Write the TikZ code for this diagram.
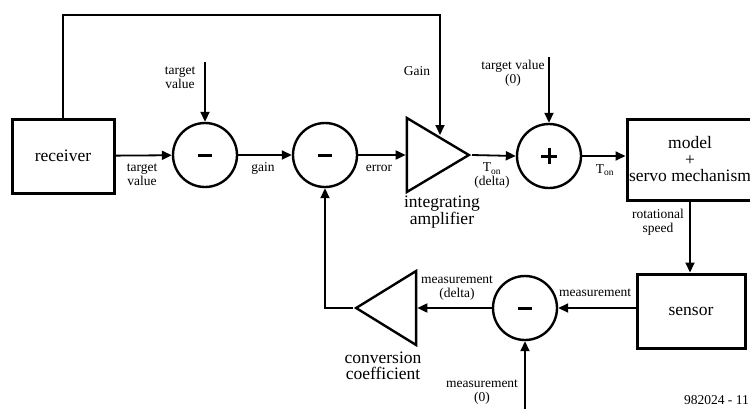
\documentclass[tikz,border=0pt]{standalone}
\usepackage{fontspec}
\setmainfont{Liberation Serif}
\usetikzlibrary{arrows.meta,shapes.geometric}
\newcommand{\smalltxt}{\fontsize{13.5}{14}\selectfont}
\newcommand{\bigtxt}{\fontsize{17.5}{16.5}\selectfont}

\begin{document}
\begin{tikzpicture}[x=1pt,y=-1pt,
    conn/.style={-{Triangle[length=10pt,width=9pt]},line width=1.8pt},
    blk/.style={draw,rectangle,line width=3pt,font=\bigtxt,align=center,inner sep=0pt},
    sum/.style={draw,circle,line width=2.4pt,minimum size=64pt,inner sep=0pt},
    amp/.style={draw,isosceles triangle,isosceles triangle stretches,line width=2.4pt,inner sep=0pt},
    lbl/.style={font=\smalltxt,align=center,inner sep=0pt},
    minus/.style={path picture={\draw[line width=3pt]
      ([xshift=-7pt]path picture bounding box.center) -- ([xshift=7pt]path picture bounding box.center);}},
    plus/.style={path picture={\draw[line width=3pt]
      ([xshift=-8pt]path picture bounding box.center) -- ([xshift=8pt]path picture bounding box.center)
      ([yshift=-8pt]path picture bounding box.center) -- ([yshift=8pt]path picture bounding box.center);}}]
    \useasboundingbox (0,0) rectangle (750,408);
    % blocks
    \node[blk,minimum width=102pt,minimum height=74pt] (receiver) at (63,156) {receiver};
    \node[sum,minus] (s1) at (205,155) {};
    \node[sum,minus] (s2) at (325,155) {};
    \node[amp,minimum width=74pt,minimum height=62pt,anchor=apex] (intamp) at (472,155) {};
    \node[sum,plus] (s3) at (549,156) {};
    \node[blk,minimum width=126pt,minimum height=81pt] (model) at (690,159.5) {model\\+\\servo mechanism};
    \node[blk,minimum width=108pt,minimum height=74pt] (sensor) at (691,311) {sensor};
    \node[sum,minus] (s4) at (525,308) {};
    \node[amp,shape border rotate=180,minimum width=74pt,minimum height=60pt,anchor=apex] (convamp) at (353,308) {};
    % free ends
    \coordinate (tvin) at (205,62);
    \coordinate (gaintop) at (440,15);
    \coordinate (gainin) at (440,135);
    \coordinate (tv0in) at (549,57);
    \coordinate (measin) at (525,412);
    % connectors
    \draw[conn] (receiver) -- (s1);
    \draw[conn] (tvin) -- (s1.north);
    \draw[conn] (s1) -- (s2);
    \draw[conn] (s2.east) -- (intamp.west);
    \draw[conn] (receiver.north) |- (gaintop) -- (gainin);
    \draw[conn] (intamp.apex) -- (s3.west);
    \draw[conn] (tv0in) -- (s3.north);
    \draw[conn] (s3.east) -- (s3.east -| model.west);
    \draw[conn] (model.south) -- (model.south |- sensor.north);
    \draw[conn] (s4.east -| sensor.west) -- (s4.east);
    \draw[conn] (measin) -- (s4.south);
    \draw[conn] (s4.west) -- (convamp.east);
    \draw[conn] (convamp.apex) -| (s2.south);
    % labels
    \node[lbl] (tvlbl) at (180,78) {target\\value};
    \node[lbl] (tvlbl2) at (142,175) {target\\value};
    \node[lbl] (gainlbl) at (263,168) {gain};
    \node[lbl] (errlbl) at (379,168) {error};
    \node[lbl] (Gainlbl) at (417,71) {Gain};
    \node[lbl] (tv0lbl) at (513,73) {target value\\(0)};
    \node[lbl] (tdltlbl) at (492,176) {T\textsubscript{on}\\(delta)};
    \node[lbl] (tonlbl) at (605,170) {T\textsubscript{on}};
    \node[font=\bigtxt,align=center,inner sep=0pt] (amplbl) at (442,212) {integrating\\amplifier};
    \node[lbl] (rotlbl) at (658,222) {rotational\\speed};
    \node[lbl] (measlbl) at (595,293) {measurement};
    \node[lbl] (mdltlbl) at (457,288) {measurement\\(delta)};
    \node[font=\bigtxt,align=center,inner sep=0pt] (convlbl) at (383,366) {conversion\\coefficient};
    \node[lbl] (m0lbl) at (482,392) {measurement\\(0)};
    \node[lbl,anchor=east] (fignolbl) at (749,400) {982024 - 11};
\end{tikzpicture}
\end{document}
